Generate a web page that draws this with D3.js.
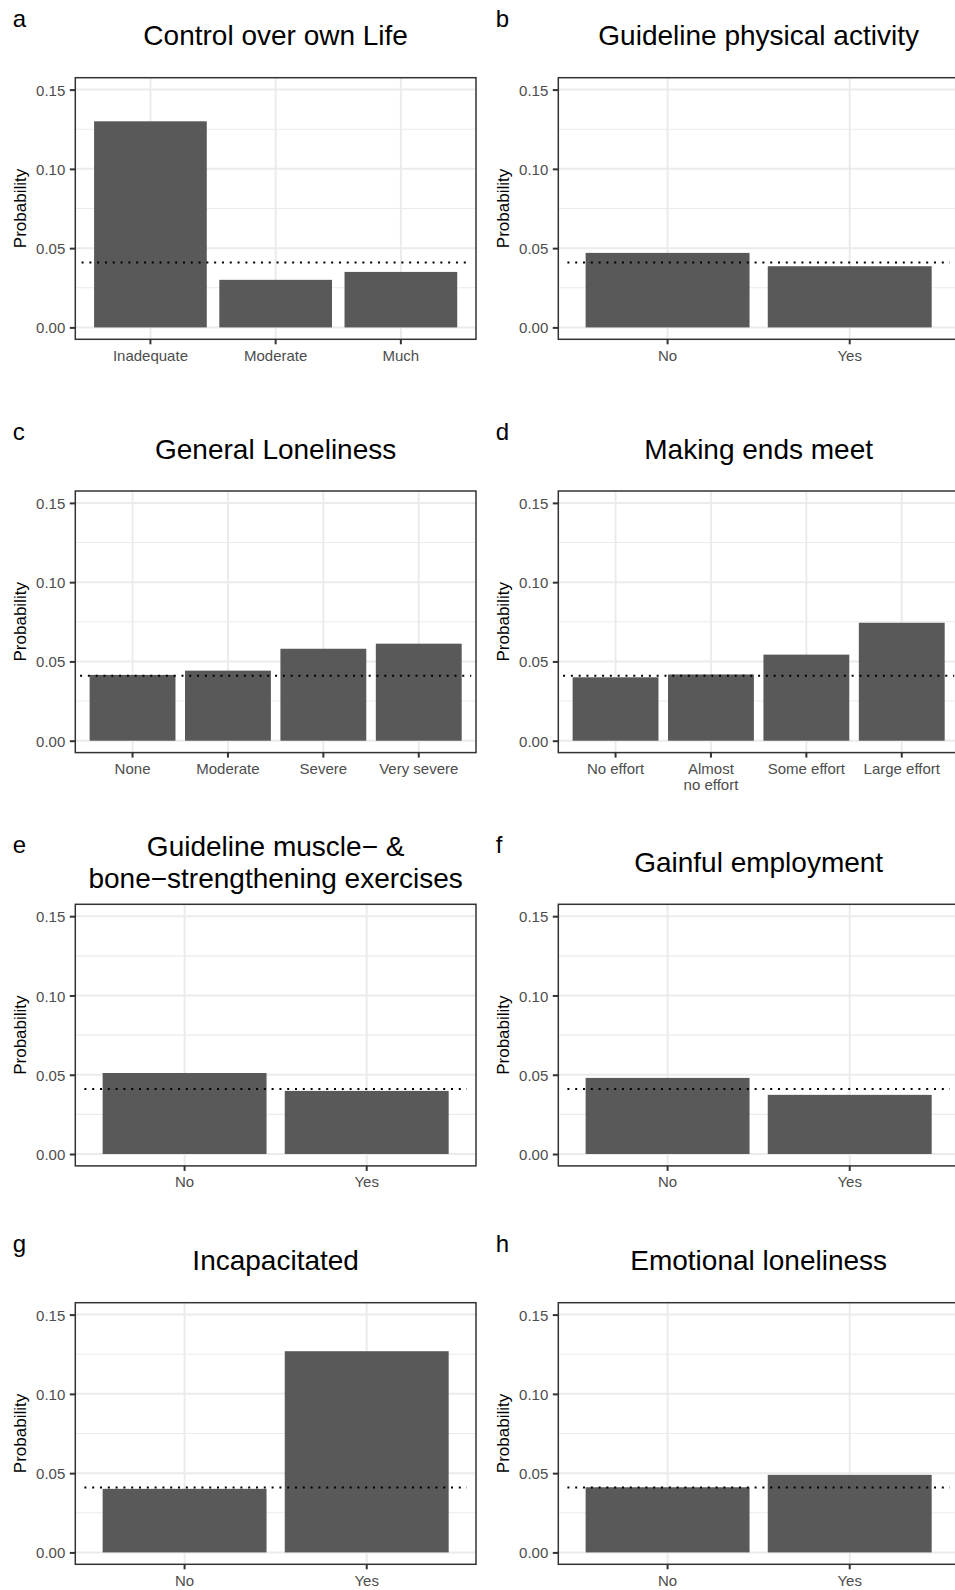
<!DOCTYPE html>
<html>
<head>
<meta charset="utf-8">
<script src="https://cdn.jsdelivr.net/npm/d3@7"></script>
<style>
body { margin: 0; background: #fff; }
text { font-family: "Liberation Sans", Arial, sans-serif; }
</style>
</head>
<body>
<div id="container"></div>
<script>
var WIDTH = 955,
	HEIGHT = 1590,
	PANEL_W = 400.7,
	PANEL_H = 261.6;
var COL_X = [75.3, 558.3];
var ROW_TOP = [77.7, 491, 904.3, 1302.7];

// data
var tags = ['a', 'b', 'c', 'd', 'e', 'f', 'g', 'h'];
var titles = [
	['Control over own Life'],
	['Guideline physical activity'],
	['General Loneliness'],
	['Making ends meet'],
	['Guideline muscle\u2212 &', 'bone\u2212strengthening exercises'],
	['Gainful employment'],
	['Incapacitated'],
	['Emotional loneliness']
];
var controlCats = ['Inadequate', 'Moderate', 'Much'];
var controlVals = [0.130, 0.030, 0.035];
var activityCats = ['No', 'Yes'];
var activityVals = [0.047, 0.0386];
var lonelyCats = ['None', 'Moderate', 'Severe', 'Very severe'];
var lonelyVals = [0.0415, 0.0442, 0.058, 0.0612];
var endsCats = ['No effort', 'Almost\nno effort', 'Some effort', 'Large effort'];
var endsVals = [0.040, 0.0418, 0.0543, 0.0744];
var muscleCats = ['No', 'Yes'];
var muscleVals = [0.0511, 0.0398];
var employCats = ['No', 'Yes'];
var employVals = [0.048, 0.0373];
var incapCats = ['No', 'Yes'];
var incapVals = [0.0401, 0.1269];
var emotionCats = ['No', 'Yes'];
var emotionVals = [0.0411, 0.0489];

var overallRate = 0.041;
var yTicks = [0, 0.05, 0.10, 0.15];
var yMinor = [0.025, 0.075, 0.125];
var yLimits = [0, 0.15];

var panelCats = [controlCats, activityCats, lonelyCats, endsCats, muscleCats, employCats, incapCats, emotionCats];
var panelVals = [controlVals, activityVals, lonelyVals, endsVals, muscleVals, employVals, incapVals, emotionVals];

var translate = function (x, y) {
	return "translate(" + x + "," + y + ")";
};

function drawPanel(svg, i) {
	var left = COL_X[i % 2],
		top = ROW_TOP[Math.floor(i / 2)],
		bottom = top + PANEL_H,
		right = left + PANEL_W;
	var cats = panelCats[i], vals = panelVals[i];
	var data = cats.map(function (c, k) { return { cat: c, val: vals[k] }; });

	var pad = (yLimits[1] - yLimits[0]) * 0.05;
	var yScale = d3.scaleLinear().domain([yLimits[0] - pad, yLimits[1] + pad]).range([bottom, top]);
	var xScale = d3.scaleBand().domain(cats).range([left, right]).paddingInner(0.1).paddingOuter(0.15);
	var step = xScale.step();

	var g = svg.append('g');

	// grid
	g.selectAll('.minor').data(yMinor).enter().append('line')
		.attr('x1', left).attr('x2', right)
		.attr('y1', function (d) { return yScale(d); })
		.attr('y2', function (d) { return yScale(d); })
		.attr('stroke', '#ebebeb').attr('stroke-width', 1.1);
	g.selectAll('.major').data(yTicks).enter().append('line')
		.attr('x1', left).attr('x2', right)
		.attr('y1', function (d) { return yScale(d); })
		.attr('y2', function (d) { return yScale(d); })
		.attr('stroke', '#ebebeb').attr('stroke-width', 2);
	g.selectAll('.vmajor').data(cats).enter().append('line')
		.attr('x1', function (d) { return xScale(d) + xScale.bandwidth() / 2; })
		.attr('x2', function (d) { return xScale(d) + xScale.bandwidth() / 2; })
		.attr('y1', top).attr('y2', bottom)
		.attr('stroke', '#ebebeb').attr('stroke-width', 2);

	// bars
	g.selectAll('rect.bar').data(data).enter().append('rect')
		.attr('x', function (d) { return xScale(d.cat); })
		.attr('width', xScale.bandwidth())
		.attr('y', function (d) { return yScale(d.val); })
		.attr('height', function (d) { return yScale(0) - yScale(d.val); })
		.attr('fill', '#595959');

	// overall rate
	g.append('line')
		.attr('x1', left + 0.05 * step).attr('x2', right - 0.05 * step)
		.attr('y1', yScale(overallRate)).attr('y2', yScale(overallRate))
		.attr('stroke', '#000').attr('stroke-width', 2)
		.attr('stroke-dasharray', '2,5.8');

	// border
	g.append('rect')
		.attr('x', left).attr('y', top)
		.attr('width', PANEL_W).attr('height', PANEL_H)
		.attr('fill', 'none').attr('stroke', '#333').attr('stroke-width', 1.5);

	// axes
	var yAxis = d3.axisLeft(yScale).tickValues(yTicks).tickSize(5.5).tickPadding(4.5)
		.tickFormat(d3.format('.2f'));
	var ya = g.append('g').attr('transform', translate(left, 0)).call(yAxis);
	ya.select('.domain').remove();
	ya.selectAll('line').attr('stroke', '#333').attr('stroke-width', 2);
	ya.selectAll('text').attr('font-size', 15).attr('fill', '#4d4d4d')
		.attr('font-family', '"Liberation Sans", Arial, sans-serif').attr('dy', '0.37em');

	var xAxis = d3.axisBottom(xScale).tickSize(5).tickPadding(5.75);
	var xa = g.append('g').attr('transform', translate(0, bottom)).call(xAxis);
	xa.select('.domain').remove();
	xa.selectAll('line').attr('stroke', '#333').attr('stroke-width', 2);
	xa.selectAll('text').attr('font-size', 15).attr('fill', '#4d4d4d')
		.attr('font-family', '"Liberation Sans", Arial, sans-serif')
		.each(function (d) {
			var lines = d.split('\n');
			if (lines.length < 2) return;
			var t = d3.select(this).text(null);
			lines.forEach(function (s, k) {
				t.append('tspan').attr('x', 0).attr('dy', k === 0 ? '0.71em' : '1.05em').text(s);
			});
			t.attr('dy', null);
		});

	// axis title
	g.append('text')
		.attr('transform', translate(left - 49.3, (top + bottom) / 2) + ' rotate(-90)')
		.attr('text-anchor', 'middle')
		.attr('font-size', 17)
		.text('Probability');

	// title
	var lines = titles[i];
	lines.forEach(function (s, k) {
		g.append('text')
			.attr('x', (left + right) / 2)
			.attr('y', top - 32.5 + (k - (lines.length - 1) / 2) * 32)
			.attr('text-anchor', 'middle')
			.attr('font-size', 28)
			.text(s);
	});

	// tag
	g.append('text')
		.attr('x', left - 62.6)
		.attr('y', top - 51)
		.attr('font-size', 24)
		.text(tags[i]);
}

function drawChart() {
	var svg = d3.select('#container')
		.append('svg')
		.attr('width', WIDTH)
		.attr('height', HEIGHT)
		.style('display', 'block');
	svg.append('rect').attr('width', WIDTH).attr('height', HEIGHT).attr('fill', '#fff');
	for (var i = 0; i < tags.length; i++) {
		drawPanel(svg, i);
	}
}

window.onload = function () {
	drawChart();
};
</script>
</body>
</html>
